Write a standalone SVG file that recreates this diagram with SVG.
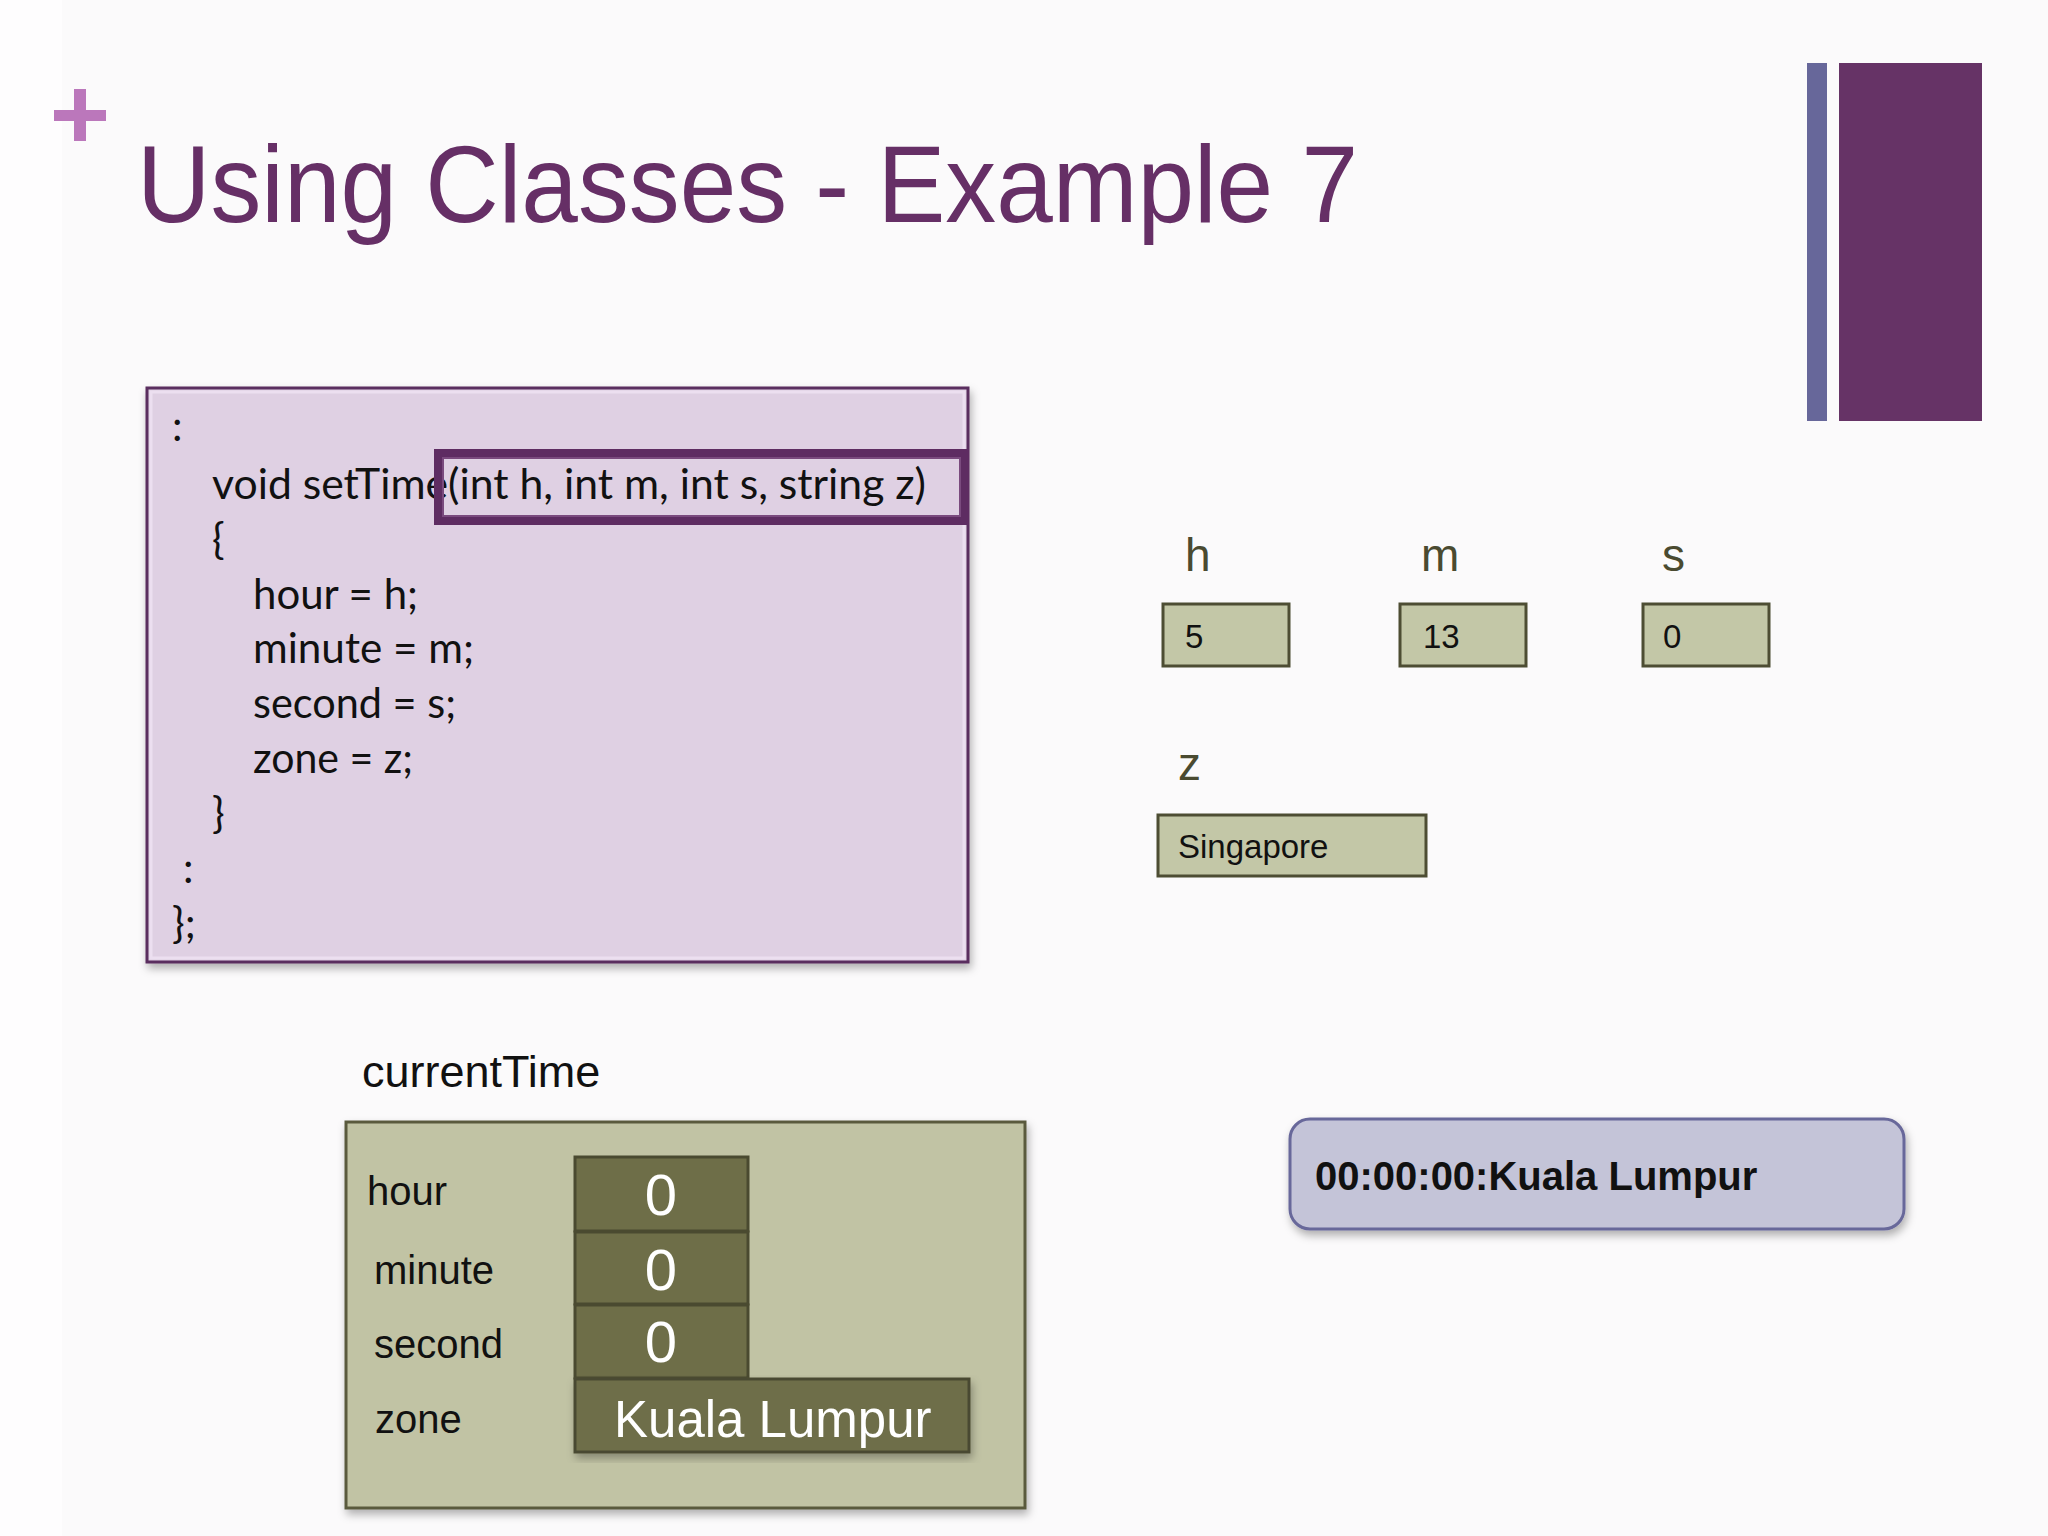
<svg xmlns="http://www.w3.org/2000/svg" width="2048" height="1536" viewBox="0 0 2048 1536">
<defs>
<style>
.code{font-family:Lato,"Open Sans",sans-serif;font-size:42px;fill:#111}
.lbl{font-family:"Liberation Sans",Arial,sans-serif;fill:#4a4a30}
.val{font-family:"Liberation Sans",Arial,sans-serif;font-size:33px;fill:#111}
.cellbox{fill:#c3c7a7;stroke:#4d4d33;stroke-width:3}
.dark{fill:#6e6e48;stroke:#4a4a30;stroke-width:3}
.white{font-family:"Liberation Sans",Arial,sans-serif;fill:#fff}
.flab{font-family:"Liberation Sans",Arial,sans-serif;font-size:40px;fill:#111}
</style>
<filter id="sh" x="-5%" y="-5%" width="115%" height="120%">
<feDropShadow dx="2" dy="5" stdDeviation="4" flood-color="#000" flood-opacity="0.3"/>
</filter>
</defs>
<rect x="0" y="0" width="2048" height="1536" fill="#fefdfe"/>
<rect x="62" y="0" width="1986" height="1536" fill="#fbfafb"/>

<g id="plus">
<rect x="54" y="110" width="52" height="11" fill="#bb77bb"/>
<rect x="74" y="89" width="12" height="52" fill="#bb77bb"/>
</g>
<g id="title">
<text x="137" y="222" font-family="'Liberation Sans',Arial,sans-serif" font-size="110" fill="#662f66" textLength="1221" lengthAdjust="spacingAndGlyphs">Using Classes - Example 7</text>
</g>
<g id="bars">
<rect x="1807" y="63" width="20" height="358" fill="#67679a"/>
<rect x="1839" y="63" width="143" height="358" fill="#663366"/>
</g>

<g id="code">
<rect x="147" y="388" width="821" height="574" fill="#dfd0e3" stroke="#5a2d5e" stroke-width="3" filter="url(#sh)"/>
<rect x="151" y="392" width="813" height="566" fill="none" stroke="#ecdff0" stroke-width="3"/>
<text class="code" x="172" y="441">:</text>
<text class="code" x="212" y="499" textLength="714" lengthAdjust="spacingAndGlyphs">void setTime(int h, int m, int s, string z)</text>
<text class="code" x="212" y="554">{</text>
<text class="code" x="253" y="609" textLength="165" lengthAdjust="spacingAndGlyphs">hour = h;</text>
<text class="code" x="253" y="663" textLength="221" lengthAdjust="spacingAndGlyphs">minute = m;</text>
<text class="code" x="253" y="718" textLength="203" lengthAdjust="spacingAndGlyphs">second = s;</text>
<text class="code" x="253" y="773" textLength="160" lengthAdjust="spacingAndGlyphs">zone = z;</text>
<text class="code" x="212" y="828">}</text>
<text class="code" x="183" y="883">:</text>
<text class="code" x="172" y="938">};</text>
<rect x="438" y="453" width="527" height="68" fill="none" stroke="#5e2c62" stroke-width="8"/>
<rect x="443" y="458" width="517" height="58" fill="none" stroke="#7a4a7e" stroke-width="2"/>
</g>

<g id="var-h">
<text class="lbl" x="1185" y="571" font-size="46">h</text>
<rect class="cellbox" x="1163" y="604" width="126" height="62"/>
<text class="val" x="1185" y="648">5</text>
</g>
<g id="var-m">
<text class="lbl" x="1421" y="571" font-size="46">m</text>
<rect class="cellbox" x="1400" y="604" width="126" height="62"/>
<text class="val" x="1423" y="648">13</text>
</g>
<g id="var-s">
<text class="lbl" x="1662" y="571" font-size="46">s</text>
<rect class="cellbox" x="1643" y="604" width="126" height="62"/>
<text class="val" x="1663" y="648">0</text>
</g>
<g id="var-z">
<text class="lbl" x="1178" y="780" font-size="46">z</text>
<rect class="cellbox" x="1158" y="815" width="268" height="61"/>
<text class="val" x="1178" y="858">Singapore</text>
</g>

<g id="currentTime">
<text x="362" y="1087" font-family="'Liberation Sans',Arial,sans-serif" font-size="45" fill="#111">currentTime</text>
<rect x="346" y="1122" width="679" height="386" fill="#c1c3a4" stroke="#5a5a3c" stroke-width="3" filter="url(#sh)"/>
<text class="flab" x="367" y="1205">hour</text>
<text class="flab" x="374" y="1284">minute</text>
<text class="flab" x="374" y="1358">second</text>
<text class="flab" x="375" y="1433">zone</text>
<rect class="dark" x="575" y="1157" width="173" height="74"/>
<rect class="dark" x="575" y="1232" width="173" height="72"/>
<rect class="dark" x="575" y="1305" width="173" height="73"/>
<rect class="dark" x="575" y="1379" width="394" height="73" filter="url(#sh)"/>
<text class="white" x="661" y="1215" font-size="58" text-anchor="middle">0</text>
<text class="white" x="661" y="1290" font-size="58" text-anchor="middle">0</text>
<text class="white" x="661" y="1362" font-size="58" text-anchor="middle">0</text>
<text class="white" x="614" y="1437" font-size="51">Kuala Lumpur</text>
</g>

<g id="output">
<rect x="1290" y="1119" width="614" height="110" rx="20" ry="20" fill="#c4c4d8" stroke="#67679a" stroke-width="3" filter="url(#sh)"/>
<text x="1315" y="1190" font-family="'Liberation Sans',Arial,sans-serif" font-size="40" font-weight="bold" fill="#111">00:00:00:Kuala Lumpur</text>
</g>
<g id="connectors"/>
</svg>
